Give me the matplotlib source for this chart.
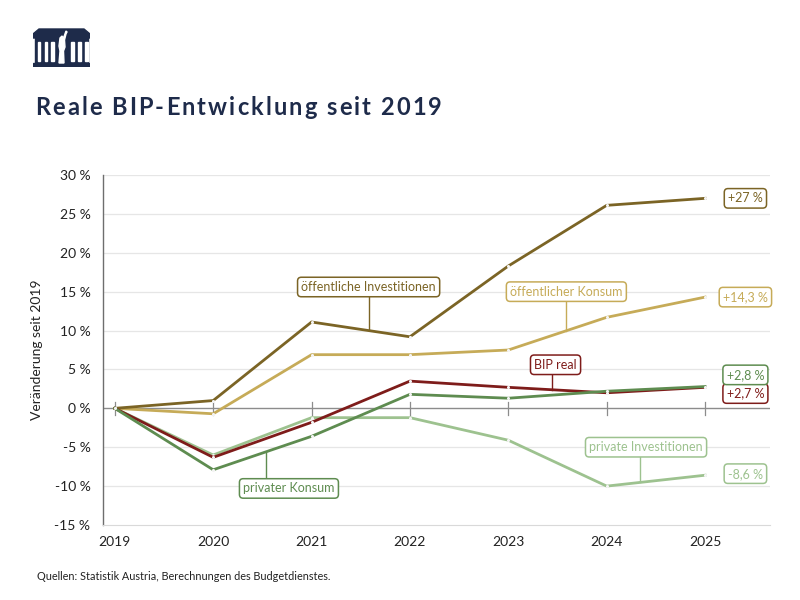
import matplotlib
matplotlib.use("Agg")
import matplotlib.pyplot as plt
from matplotlib.patches import Polygon, Rectangle

plt.rcParams['font.family'] = ['Lato', 'DejaVu Sans']

# data (Veränderung seit 2019 in %)
years = [2019, 2020, 2021, 2022, 2023, 2024, 2025]
oeff_invest = [0, 1.0, 11.1, 9.2, 18.3, 26.1, 27.0]
oeff_konsum = [0, -0.7, 6.9, 6.9, 7.5, 11.7, 14.3]
bip_real = [0, -6.3, -1.8, 3.5, 2.7, 2.0, 2.7]
priv_konsum = [0, -7.9, -3.6, 1.8, 1.3, 2.2, 2.8]
priv_invest = [0, -6.0, -1.2, -1.2, -4.1, -10.0, -8.6]

names = ["öffentliche Investitionen", "öffentlicher Konsum", "BIP real",
         "privater Konsum", "private Investitionen"]
end_labels = ["+27 %", "+14,3 %", "+2,7 %", "+2,8 %", "-8,6 %"]
yticks = [-15, -10, -5, 0, 5, 10, 15, 20, 25, 30]

colors = ["#7b6425", "#c6ab58", "#7e1c1a", "#5e8c50", "#9dc28f"]
series = [oeff_invest, oeff_konsum, bip_real, priv_konsum, priv_invest]

navy = "#1e2b4a"
title = "Reale BIP-Entwicklung seit 2019"

fig = plt.figure(figsize=(8, 6), dpi=100)
ax = fig.add_axes([103/800, 1-525/600, (770-103)/800, 350/600])

for yv in yticks[1:]:
    if yv != 0:
        ax.axhline(yv, color="#e6e6e6", lw=0.9, zorder=0)
ax.axhline(0, color="#8c8c8c", lw=1.0, zorder=1)
for yr in years:
    ax.plot([yr, yr], [-0.8, 0.8], color="#8c8c8c", lw=0.9, zorder=1)

# draw order: light ones first
order = [4, 1, 0, 2, 3]
for i in order:
    ax.plot(years, series[i], color=colors[i], lw=2.0, zorder=3,
            marker="o", markersize=2.2, markerfacecolor="#f4f4f4",
            markeredgewidth=0)

# label boxes with leaders: (box x, box y, leader x, leader end y)
callouts = [
    (2021.58, 15.6, 2021.58, 10.1),
    (2023.59, 15.0, 2023.59, 10.0),
    (2023.48, 5.6, 2023.44, 2.4),
    (2020.77, -10.3, 2020.54, -5.6),
    (2024.40, -5.0, 2024.34, -9.5),
]
for i, (cx, cy, lx, ty) in enumerate(callouts):
    ax.plot([lx, lx], [cy, ty], color=colors[i], lw=1.0, zorder=2)
    ax.text(cx, cy, names[i], color=colors[i], fontsize=9, ha="center",
            va="center", zorder=5,
            bbox=dict(boxstyle="round,pad=0.3,rounding_size=0.3",
                      fc="white", ec=colors[i], lw=1.1))

end_y = [27.0, 14.3, 1.9, 4.3, -8.4]
for i, ly in enumerate(end_y):
    ax.text(2025.41, ly, end_labels[i], color=colors[i], fontsize=9,
            ha="center", va="center", zorder=5,
            bbox=dict(boxstyle="round,pad=0.3,rounding_size=0.3",
                      fc="white", ec=colors[i], lw=1.1))

ax.set_xlim(2018.88, 2025.66)
ax.set_ylim(-15, 30)
ax.set_yticks(yticks)
ax.set_yticklabels([f"{v} %" for v in yticks], fontsize=10, color="#222222")
ax.set_xticks(years)
ax.set_xticklabels([str(y) for y in years], fontsize=10, color="#222222")
ax.tick_params(axis="both", length=0, pad=8)
ax.tick_params(axis="y", pad=9)
for s in ["top", "right"]:
    ax.spines[s].set_visible(False)
ax.spines["bottom"].set_color("#d9d9d9")
ax.spines["left"].set_color("#6e6e6e")
ax.spines["left"].set_linewidth(1.0)
ax.set_ylabel("Veränderung seit 2019", fontsize=10, color="#222222", labelpad=8)

# title with letter spacing, char by char
renderer = fig.canvas.get_renderer()
ref = fig.text(0, 0, "a a", fontsize=17, fontweight="bold")
ref2 = fig.text(0, 0, "aa", fontsize=17, fontweight="bold")
space_w = ref.get_window_extent(renderer).width - ref2.get_window_extent(renderer).width
ref.remove()
ref2.remove()
xpos = 35
for ch in title:
    t = fig.text(xpos/800, 1-108/600, ch, fontsize=17, fontweight="bold",
                 color=navy, va="center", ha="left")
    w = space_w if ch == " " else t.get_window_extent(renderer).width
    xpos += w + 2.1

fig.text(37/800, 1-576/600,
         "Quellen: Statistik Austria, Berechnungen des Budgetdienstes.",
         fontsize=7.8, color="#222222", va="center", ha="left")

# logo
lg = fig.add_axes([33/800, 1-67/600, 57/800, 39/600])
lg.set_xlim(0, 57)
lg.set_ylim(0, 39)
lg.axis("off")
lg.add_patch(Polygon([(0, 29), (57, 29), (57, 33), (51, 38), (6, 38),
                      (0, 33)], closed=True, color=navy))
lg.add_patch(Rectangle((0, 0), 57, 4, color=navy))
lg.add_patch(Rectangle((2, 4), 53, 26, color=navy))
for sx in [3, 10, 17, 37, 44, 51]:
    lg.add_patch(Rectangle((sx + 1.5, 6), 2.2, 19, color="white"))
lg.add_patch(Polygon([(26, 4), (31, 4), (30.5, 16), (32, 20), (31.5, 27),
                      (33, 33), (34, 35), (33, 36), (30.5, 29), (29, 31),
                      (27, 29), (26, 21), (27, 16)], closed=True,
                     color="white"))

fig.savefig("out.png", dpi=100)
